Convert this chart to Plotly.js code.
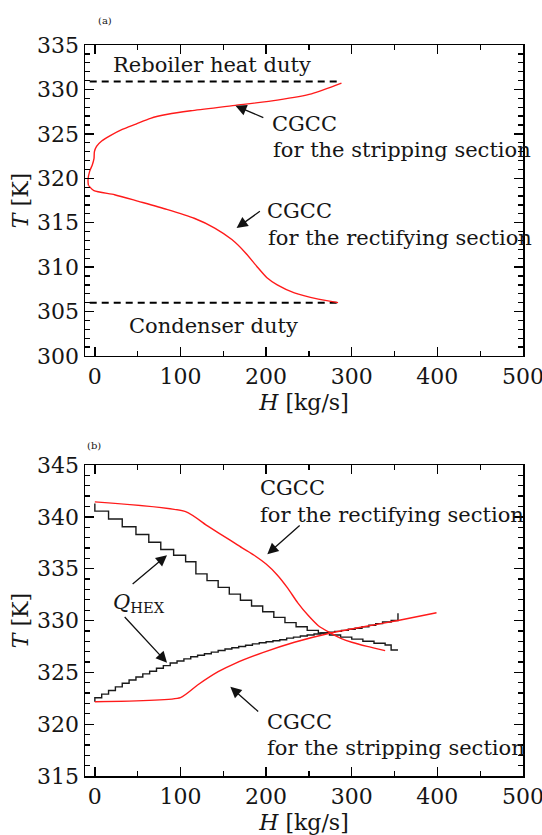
<!DOCTYPE html>
<html>
<head>
<meta charset="utf-8">
<script src="https://cdn.plot.ly/plotly-3.0.1.min.js"></script>
<style>html,body{margin:0;padding:0;background:#fff;}#chart{width:542px;height:835px;}</style>
</head>
<body>
<div id="chart"></div>
<script>
// ---- Panel (a) ----
const aStripH = [288, 253, 213, 164, 112, 85, 65, 48, 32, 18, 8, 2, -0.5, -1, -3, -6, -8, -7.5];
const aStripT = [330.7, 329.5, 328.8, 328.2, 327.6, 327.2, 326.75, 326.1, 325.5, 324.8, 324.2, 323.6, 323.0, 322.2, 321.5, 320.8, 319.8, 319.2];
const aRectH = [-7.5, -1, 23, 51, 84, 116, 140, 160, 176, 189, 201, 213, 233, 261, 284];
const aRectT = [319.2, 318.6, 318.15, 317.4, 316.5, 315.5, 314.4, 313.1, 311.6, 310.1, 308.8, 308.0, 307.1, 306.4, 306.0];
const reboilerH = [-6, 288];
const reboilerT = [330.9, 330.9];
const condenserH = [-6, 284];
const condenserT = [306.0, 306.0];

// ---- Panel (b) ----
const bRectH = [0, 106, 132, 157, 172, 186, 200, 213, 225, 237, 249, 261, 275, 288, 300, 318, 339];
const bRectT = [341.45, 340.5, 339.1, 337.8, 337.0, 336.3, 335.45, 334.4, 333.15, 331.7, 330.5, 329.5, 328.8, 328.25, 327.9, 327.5, 327.1];
const bStripH = [0, 100, 120, 144, 164, 196, 233, 273, 314, 354, 399];
const bStripT = [322.17, 322.56, 323.78, 325.06, 325.87, 326.9, 327.9, 328.75, 329.4, 330.0, 330.75];
// Q_HEX staircases (segment end H, segment level T)
const hexHotH = [0, 16, 32, 48, 63, 77, 92, 106, 118, 131, 144, 157, 170, 183, 196, 209, 222, 235, 248, 261, 274, 287, 300, 313, 326, 339, 346, 354];
const hexHotT = [341.3, 340.55, 339.8, 339.05, 338.3, 337.55, 336.85, 336.3, 335.67, 334.5, 333.85, 333.2, 332.55, 331.95, 331.4, 330.85, 330.3, 329.8, 329.4, 329.05, 328.8, 328.6, 328.4, 328.2, 328.0, 327.8, 327.64, 327.16];
const hexColdH = [0, 8, 16, 24, 32, 40, 48, 56, 64, 72, 80, 88, 96, 104, 112, 120, 128, 136, 144, 152, 160, 168, 176, 184, 192, 200, 208, 216, 224, 232, 240, 248, 256, 264, 272, 280, 288, 296, 304, 312, 320, 328, 336, 346, 354, 354];
const hexColdT = [322.17, 322.55, 322.9, 323.25, 323.6, 323.95, 324.26, 324.55, 324.85, 325.1, 325.4, 325.65, 325.9, 326.1, 326.3, 326.5, 326.65, 326.8, 326.95, 327.1, 327.25, 327.37, 327.5, 327.62, 327.75, 327.85, 327.95, 328.05, 328.15, 328.3, 328.4, 328.5, 328.6, 328.7, 328.8, 328.88, 328.95, 329.05, 329.15, 329.25, 329.4, 329.55, 329.7, 329.85, 330.0, 330.7];

const xTicks = [0, 100, 200, 300, 400, 500];

const FONT = 'DejaVu Serif';
const red = '#ff1a1a';
const blk = '#1a1a1a';
const TXT = '#151515';

const traces = [
  {x: reboilerH, y: reboilerT, xaxis: 'x', yaxis: 'y', mode: 'lines', line: {color: '#000', width: 2, dash: '7px,5px'}},
  {x: condenserH, y: condenserT, xaxis: 'x', yaxis: 'y', mode: 'lines', line: {color: '#000', width: 2, dash: '7px,5px'}},
  {x: aStripH, y: aStripT, xaxis: 'x', yaxis: 'y', mode: 'lines', line: {color: red, width: 1.4, shape: 'spline', smoothing: 0.7}},
  {x: aRectH, y: aRectT, xaxis: 'x', yaxis: 'y', mode: 'lines', line: {color: red, width: 1.4, shape: 'spline', smoothing: 0.6}},
  {x: hexHotH, y: hexHotT, xaxis: 'x2', yaxis: 'y2', mode: 'lines', line: {color: blk, width: 1.4, shape: 'vh'}},
  {x: hexColdH, y: hexColdT, xaxis: 'x2', yaxis: 'y2', mode: 'lines', line: {color: blk, width: 1.4, shape: 'vh'}},
  {x: bRectH, y: bRectT, xaxis: 'x2', yaxis: 'y2', mode: 'lines', line: {color: red, width: 1.4, shape: 'spline', smoothing: 0.6}},
  {x: bStripH, y: bStripT, xaxis: 'x2', yaxis: 'y2', mode: 'lines', line: {color: red, width: 1.4, shape: 'spline', smoothing: 0.5}}
];

function xAxis(domainAnchor) {
  return {
    anchor: domainAnchor, range: [-11.5, 500], tickvals: xTicks, ticktext: xTicks.map(String),
    ticks: 'inside', ticklen: 9, tickwidth: 1.3, tickcolor: '#000',
    minor: {dtick: 50, tick0: 0, ticks: 'inside', ticklen: 5, tickwidth: 1.3, tickcolor: '#000'},
    showline: true, linecolor: '#000', linewidth: 1.5, mirror: 'ticks',
    showgrid: false, zeroline: false, ticklabeloverflow: 'allow',
    tickfont: {family: FONT, size: 22, color: TXT},
    title: {text: '<i>H</i> [kg/s]', font: {family: FONT, size: 22, color: TXT}, standoff: 6}
  };
}
function yAxis(domain, range, anchor) {
  return {
    domain: domain, anchor: anchor, range: range, dtick: 5, tick0: 300,
    ticks: 'inside', ticklen: 9, tickwidth: 1.3, tickcolor: '#000',
    minor: {dtick: 1, ticks: 'inside', ticklen: 5, tickwidth: 1.3, tickcolor: '#000'},
    showline: true, linecolor: '#000', linewidth: 1.5, mirror: 'ticks',
    showgrid: false, zeroline: false,
    tickfont: {family: FONT, size: 22, color: TXT},
    title: {text: '<i>T</i> [K]', font: {family: FONT, size: 22, color: TXT}, standoff: 2}
  };
}

function txt(xref, yref, x, y, text, anchor) {
  return {xref: xref, yref: yref, x: x, y: y, text: text, showarrow: false,
    xanchor: anchor || 'left', yanchor: 'middle', font: {family: FONT, size: 21, color: TXT}};
}
function arr(xref, yref, x, y, ax, ay) {
  return {xref: xref, yref: yref, x: x, y: y, ax: ax, ay: ay, axref: xref, ayref: yref,
    text: ' ', showarrow: true, arrowhead: 2, arrowsize: 1.7, arrowwidth: 1.3, arrowcolor: '#111',
    font: {size: 1}};
}

const layout = {
  width: 542, height: 835,
  margin: {l: 85, r: 19, t: 45, b: 59},
  paper_bgcolor: '#fff', plot_bgcolor: '#fff',
  font: {family: FONT},
  showlegend: false,
  xaxis: xAxis('y'),
  yaxis: yAxis([0.5746, 1], [300, 335], 'x'),
  xaxis2: xAxis('y2'),
  yaxis2: yAxis([0, 0.4254], [315, 345], 'x2'),
  annotations: [
    {xref: 'paper', yref: 'paper', x: 0.025, y: 1.034, text: '(a)', showarrow: false, xanchor: 'left', yanchor: 'middle', font: {family: FONT, size: 10, color: TXT}},
    {xref: 'paper', yref: 'paper', x: 0.0, y: 0.4528, text: '(b)', showarrow: false, xanchor: 'left', yanchor: 'middle', font: {family: FONT, size: 10, color: TXT}},
    txt('x', 'y', 136.4, 332.75, 'Reboiler heat duty', 'center'),
    txt('x', 'y', 204.6, 326.1, 'CGCC'),
    txt('x', 'y', 205.5, 323.2, 'for the stripping section'),
    txt('x', 'y', 198.5, 316.3, 'CGCC'),
    txt('x', 'y', 199.7, 313.3, 'for the rectifying section'),
    txt('x', 'y', 138.4, 303.4, 'Condenser duty', 'center'),
    arr('x', 'y', 164.2, 328.15, 198.5, 326.76),
    arr('x', 'y', 165.5, 314.4, 194.5, 316.4),
    txt('x2', 'y2', 190.5, 342.75, 'CGCC'),
    txt('x2', 'y2', 190.5, 340.2, 'for the rectifying section'),
    txt('x2', 'y2', 19, 331.7, '<i>Q</i><sub>HEX</sub>'),
    txt('x2', 'y2', 198.5, 320.2, 'CGCC'),
    txt('x2', 'y2', 198.5, 317.7, 'for the stripping section'),
    arr('x2', 'y2', 201.4, 336.4, 240.9, 339.3),
    arr('x2', 'y2', 84.3, 336.3, 42.4, 333.4),
    arr('x2', 'y2', 84.3, 325.93, 33.1, 330.5),
    arr('x2', 'y2', 158.2, 323.6, 192.5, 321.1)
  ]
};

Plotly.newPlot('chart', traces, layout, {displayModeBar: false, staticPlot: true});
</script>
</body>
</html>
